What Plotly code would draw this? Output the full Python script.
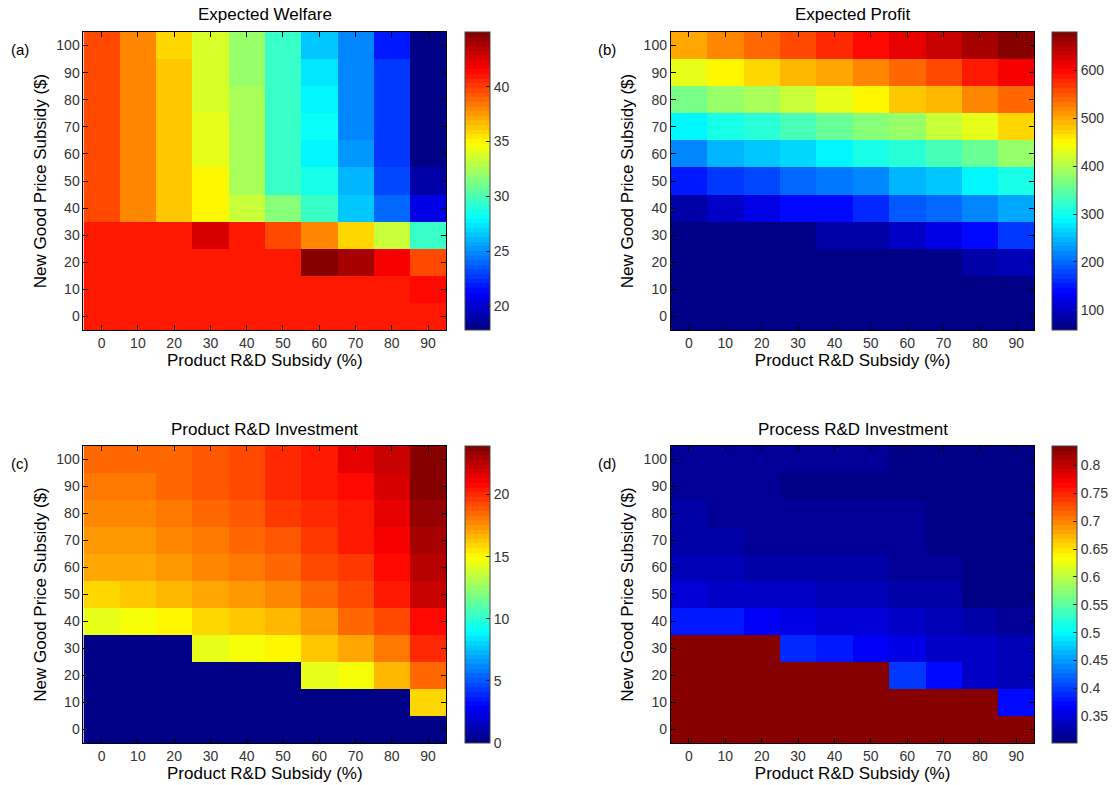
import plotly.graph_objects as go

W, H = 1114, 785

# ---------------- data ----------------
rd_subsidy = [0, 10, 20, 30, 40, 50, 60, 70, 80, 90]          # Product R&D Subsidy (%)
price_subsidy = [0, 10, 20, 30, 40, 50, 60, 70, 80, 90, 100]  # New Good Price Subsidy ($)

# rows follow price_subsidy (0 -> 100), columns follow rd_subsidy
expected_welfare = [
    [40.8, 40.8, 40.8, 40.8, 40.8, 40.8, 40.8, 40.8, 40.8, 40.8],
    [41.1, 41.1, 41.1, 41.1, 41.1, 41.1, 41.1, 41.1, 41.1, 41.3],
    [41.1, 41.1, 41.1, 41.1, 41.1, 41.1, 45.0, 43.9, 42.0, 39.5],
    [41.1, 41.1, 41.1, 42.5, 41.1, 39.5, 37.9, 35.9, 33.4, 29.7],
    [39.5, 38.0, 36.3, 34.8, 33.3, 31.8, 29.3, 26.5, 23.8, 20.4],
    [39.5, 38.0, 36.3, 34.8, 32.3, 29.7, 28.7, 25.9, 23.1, 18.9],
    [39.5, 38.0, 36.3, 34.3, 32.3, 29.7, 27.8, 25.3, 22.7, 18.1],
    [39.5, 38.0, 36.3, 34.3, 32.3, 29.7, 28.0, 25.0, 22.7, 18.0],
    [39.5, 38.0, 36.3, 33.9, 32.3, 29.7, 27.6, 25.0, 22.7, 17.9],
    [39.5, 38.0, 36.3, 33.9, 32.1, 29.7, 27.4, 25.0, 22.5, 17.8],
    [39.5, 38.0, 35.8, 33.9, 32.1, 29.7, 26.7, 24.6, 22.0, 17.8],
]

expected_profit = [
    [58, 58, 58, 58, 58, 58, 58, 58, 58, 58],
    [58, 58, 58, 58, 58, 58, 58, 58, 58, 58],
    [60, 60, 60, 60, 60, 60, 60, 66, 86, 95],
    [64, 64, 64, 64, 80, 86, 101, 126, 139, 170],
    [83, 101, 120, 136, 145, 164, 185, 198, 214, 238],
    [151, 170, 179, 195, 207, 220, 245, 257, 282, 301],
    [223, 245, 254, 270, 285, 301, 319, 338, 353, 381],
    [291, 307, 319, 338, 353, 369, 388, 409, 434, 475],
    [360, 381, 394, 416, 434, 456, 478, 493, 515, 537],
    [437, 456, 472, 487, 503, 517, 543, 560, 588, 611],
    [505, 521, 541, 559, 577, 599, 621, 641, 660, 680],
]

product_rd_investment = [
    [0, 0, 0, 0, 0, 0, 0, 0, 0, 0],
    [0, 0, 0, 0, 0, 0, 0, 0, 0, 15.9],
    [0, 0, 0, 0, 0, 0, 14.3, 14.9, 16.7, 18.4],
    [0, 0, 0, 14.3, 14.9, 15.3, 16.1, 16.9, 18.0, 19.8],
    [14.5, 14.9, 15.3, 15.9, 16.4, 16.7, 17.4, 18.3, 19.4, 20.6],
    [16.0, 16.1, 16.5, 16.9, 17.3, 17.6, 18.4, 19.1, 20.4, 22.2],
    [17.0, 17.1, 17.2, 17.6, 18.0, 18.4, 19.2, 19.7, 20.8, 22.7],
    [17.2, 17.4, 17.7, 18.0, 18.4, 19.0, 19.5, 20.2, 21.2, 23.0],
    [17.9, 17.9, 18.2, 18.6, 18.9, 19.5, 19.8, 20.4, 21.6, 23.5],
    [18.0, 18.1, 18.4, 18.8, 19.2, 19.8, 20.2, 20.7, 22.0, 23.7],
    [18.3, 18.4, 18.6, 19.0, 19.4, 20.0, 20.4, 21.3, 22.4, 23.9],
]

process_rd_investment = [
    [0.835, 0.835, 0.835, 0.835, 0.835, 0.835, 0.835, 0.835, 0.835, 0.835],
    [0.835, 0.835, 0.835, 0.835, 0.835, 0.835, 0.835, 0.835, 0.835, 0.372],
    [0.835, 0.835, 0.835, 0.835, 0.835, 0.835, 0.400, 0.372, 0.342, 0.330],
    [0.835, 0.835, 0.835, 0.392, 0.377, 0.368, 0.358, 0.342, 0.336, 0.328],
    [0.385, 0.377, 0.368, 0.358, 0.350, 0.345, 0.340, 0.334, 0.326, 0.312],
    [0.348, 0.340, 0.336, 0.336, 0.331, 0.328, 0.324, 0.320, 0.310, 0.310],
    [0.328, 0.328, 0.322, 0.322, 0.320, 0.320, 0.318, 0.318, 0.309, 0.309],
    [0.320, 0.320, 0.316, 0.316, 0.316, 0.312, 0.312, 0.306, 0.306, 0.306],
    [0.322, 0.316, 0.316, 0.316, 0.312, 0.312, 0.312, 0.305, 0.305, 0.305],
    [0.316, 0.316, 0.316, 0.310, 0.310, 0.310, 0.305, 0.304, 0.303, 0.302],
    [0.318, 0.318, 0.312, 0.312, 0.312, 0.312, 0.306, 0.306, 0.306, 0.306],
]

titles = ["Expected Welfare", "Expected Profit", "Product R&D Investment", "Process R&D Investment"]
panel_tags = ["(a)", "(b)", "(c)", "(d)"]
color_ranges = [(17.8, 45.0), (58, 680), (0, 23.9), (0.302, 0.835)]
cbar_ticks = [
    [20, 25, 30, 35, 40],
    [100, 200, 300, 400, 500, 600],
    [0, 5, 10, 15, 20],
    [0.35, 0.4, 0.45, 0.5, 0.55, 0.6, 0.65, 0.7, 0.75, 0.8],
]
x_ticks = [0, 10, 20, 30, 40, 50, 60, 70, 80, 90]
y_ticks = [0, 10, 20, 30, 40, 50, 60, 70, 80, 90, 100]
x_label = "Product R&D Subsidy (%)"
y_label = "New Good Price Subsidy ($)"

# ---------------- styling ----------------
# jet colormap drawn as 64 discrete bands (colour taken at band centre)
def _jet_level(i, n=64):
    x = (i + 0.5) / n
    clip = lambda v: max(0.0, min(1.0, v))
    r = clip(1.5 - abs(4 * x - 3))
    g = clip(1.5 - abs(4 * x - 2))
    b = clip(1.5 - abs(4 * x - 1))
    return "rgb(%d,%d,%d)" % (round(r * 255), round(g * 255), round(b * 255))

jet = []
for i in range(64):
    c = _jet_level(i)
    jet.append([i / 64, c])
    jet.append([(i + 1) / 64, c])

FONT = "Liberation Sans, Arial, sans-serif"
TICK_COLOR = "#333333"

# pixel boxes: (left, right, top, bottom) of plot area, colorbar left
boxes = [
    (84, 449, 32, 330, 468),
    (675, 1041, 32, 330, 1059),
    (84, 449, 446, 743, 468),
    (675, 1041, 446, 743, 1059),
]
title_y = [15, 15, 429, 429]
tag_pos = [(20, 50), (611, 50), (20, 463), (611, 463)]

def px(x):
    return x / W

def py(y):
    return 1 - y / H

fig = go.Figure()
datasets = [expected_welfare, expected_profit, product_rd_investment, process_rd_investment]
annotations = []

for i, z in enumerate(datasets):
    l, r, t, b, cbx = boxes[i]
    xa = "x" if i == 0 else f"x{i+1}"
    ya = "y" if i == 0 else f"y{i+1}"
    zmin, zmax = color_ranges[i]
    fig.add_trace(go.Heatmap(
        x=rd_subsidy, y=price_subsidy, z=z,
        xaxis=xa, yaxis=ya,
        colorscale=jet, zmin=zmin, zmax=zmax,
        colorbar=dict(
            x=px(cbx), xanchor="left", xref="paper",
            y=(py(t) + py(b)) / 2, yanchor="middle", yref="paper",
            len=(py(t) - py(b)), lenmode="fraction",
            thickness=25, thicknessmode="pixels",
            xpad=0, ypad=0,
            outlinecolor="#444444", outlinewidth=1,
            ticks="inside", ticklen=4, tickcolor="#222222",
            tickvals=cbar_ticks[i],
            ticktext=[("%g" % v) for v in cbar_ticks[i]],
            tickfont=dict(family=FONT, size=14, color=TICK_COLOR),
        ),
    ))
    axis_common = dict(
        showline=True, linecolor="black", linewidth=1, mirror="ticks",
        ticks="inside", ticklen=5, tickcolor="black", tickwidth=1,
        showgrid=False, zeroline=False,
        tickfont=dict(family=FONT, size=14, color=TICK_COLOR),
    )
    fig.layout[("xaxis" if i == 0 else f"xaxis{i+1}")] = dict(
        domain=[px(l), px(r)], anchor=ya, range=[-5, 95],
        tickvals=x_ticks,
        title=dict(text=x_label, font=dict(family=FONT, size=17, color="black"), standoff=2),
        **axis_common,
    )
    fig.layout[("yaxis" if i == 0 else f"yaxis{i+1}")] = dict(
        domain=[py(b), py(t)], anchor=xa, range=[-5, 105],
        tickvals=y_ticks,
        title=dict(text=y_label, font=dict(family=FONT, size=17, color="black"), standoff=5),
        **axis_common,
    )
    annotations.append(dict(
        text=titles[i], x=px((l + r) / 2), y=py(title_y[i]), xref="paper", yref="paper",
        xanchor="center", yanchor="middle", showarrow=False,
        font=dict(family=FONT, size=17, color="black"),
    ))
    annotations.append(dict(
        text=panel_tags[i], x=px(tag_pos[i][0]), y=py(tag_pos[i][1]), xref="paper", yref="paper",
        xanchor="center", yanchor="middle", showarrow=False,
        font=dict(family=FONT, size=15, color="black"),
    ))

fig.update_layout(
    width=W, height=H,
    margin=dict(l=0, r=0, t=0, b=0),
    paper_bgcolor="white", plot_bgcolor="white",
    annotations=annotations,
    font=dict(family=FONT),
)

fig.write_html(
    "out.html",
    config={"displayModeBar": False},
    post_script="document.body.style.margin='0';document.body.style.overflow='hidden';",
)
